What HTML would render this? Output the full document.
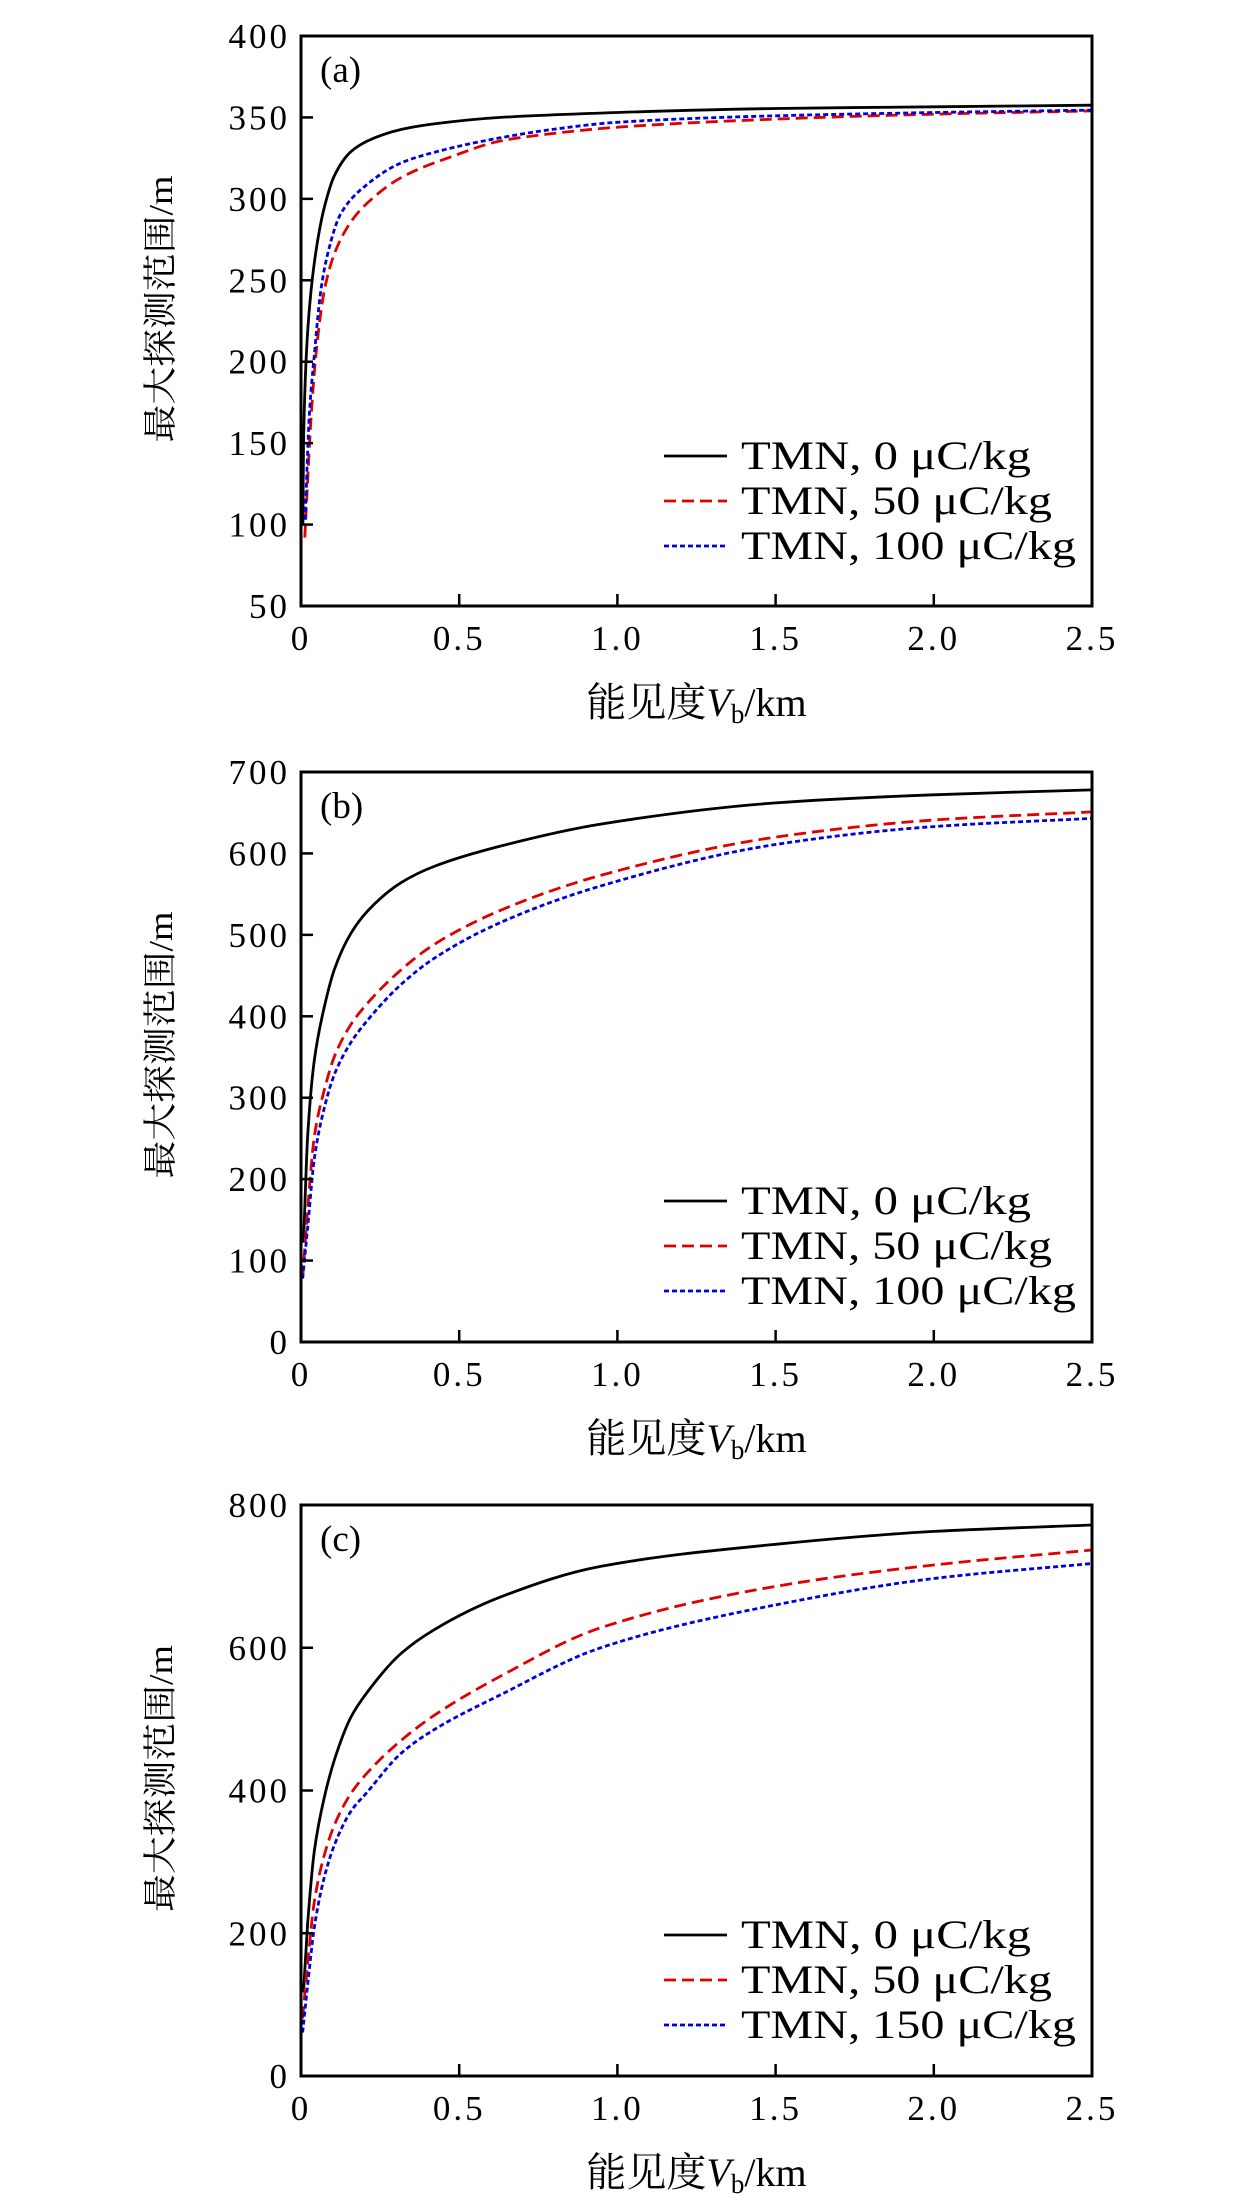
<!DOCTYPE html>
<html><head><meta charset="utf-8">
<style>
html,body{margin:0;padding:0;background:#fff;}
svg{display:block;}
text{font-family:"Liberation Serif","Noto Serif CJK SC",serif;fill:#000;}
</style></head>
<body>
<svg id="fig" width="1260" height="2205" viewBox="0 0 1260 2205" xmlns="http://www.w3.org/2000/svg"></svg>
<script>
// Panel (a)
const aBlackX = [0.006,0.008,0.02,0.032,0.053,0.074,0.105,0.158,0.21,0.316,0.42,0.63,1.0,1.5,2.0,2.5];
const aBlackY = [100,149,215,244,275,295,314,329,335.5,342.6,346,350,353,355.5,356.5,357.5];
const aRedX = [0.012,0.032,0.047,0.074,0.105,0.158,0.21,0.316,0.47,0.63,0.79,1.0,1.5,2.0,2.5];
const aRedY = [92,166,204,244,266,286,297.5,313,325.5,335.5,340,344,349,352,354];
const aBlueX = [0.013,0.026,0.042,0.063,0.084,0.126,0.21,0.316,0.47,0.63,0.79,1.0,1.5,2.0,2.5];
const aBlueY = [103,166,204,244,266,291,309,322,331,337.5,342.5,347,351,353,354.5];

// Panel (b)
const bX = [0.005,0.021,0.042,0.074,0.105,0.158,0.21,0.316,0.42,0.63,0.947,1.5,2.0,2.5];
const bBlackX = [0.008,0.021,0.042,0.074,0.105,0.158,0.21,0.316,0.42,0.63,0.947,1.5,2.0,2.5];
const bBlackY = [122,252,346,412,457,502,529,564,584,609,636,662,672,678];
const bRedY  = [78,162,252,310,350,390,416,457,488,530,573,620,641,651];
const bBlueY = [78,140,225,288,328,368,395,439,471,515,560,611,633,643];

// Panel (c)
const cX = [0.005,0.021,0.042,0.074,0.105,0.158,0.21,0.316,0.42,0.63,0.947,1.5,2.0,2.5];
const cBlackX = [0.008,0.021,0.042,0.074,0.105,0.158,0.21,0.316,0.42,0.63,0.947,1.5,2.0,2.5];
const cBlackY = [117,213,315,391,442,503,538,592,625,671,714,745,763,772];
const cRedY  = [81,157,244,310,351,396,425,470,505,560,628,686,716,737];
const cBlueY = [61,127,208,279,323,371,398,452,485,534,600,660,697,718];

const yTicksA = [50,100,150,200,250,300,350,400];
const yTicksB = [0,100,200,300,400,500,600,700];
const yTicksC = [0,200,400,600,800];
const xTicks = [0,0.5,1.0,1.5,2.0,2.5];
const xTickLabels = ['0','0.5','1.0','1.5','2.0','2.5'];
const legendA = ['TMN, 0 μC/kg','TMN, 50 μC/kg','TMN, 100 μC/kg'];
const legendC = ['TMN, 0 μC/kg','TMN, 50 μC/kg','TMN, 150 μC/kg'];

const NS='http://www.w3.org/2000/svg';
const svg=document.getElementById('fig');
function mk(tag,attrs,parent){const e=document.createElementNS(NS,tag);for(const k in attrs)e.setAttribute(k,attrs[k]);(parent||svg).appendChild(e);return e;}

const L=301,R=1092;
const styles=[{c:'#000',d:''},{c:'#e00000',d:'12 6'},{c:'#0000dd',d:'5 3'}];
const legendW=[290,311,335];

function monoPath(px,py){
  const n=px.length;
  if(n<2)return '';
  const dx=[],m=[],t=new Array(n);
  for(let i=0;i<n-1;i++){dx.push(px[i+1]-px[i]);m.push((py[i+1]-py[i])/dx[i]);}
  t[0]=m[0];t[n-1]=m[n-2];
  for(let i=1;i<n-1;i++){t[i]=(m[i-1]*m[i]<=0)?0:(dx[i-1]+dx[i])*3/((2*dx[i]+dx[i-1])/m[i-1]+(dx[i]+2*dx[i-1])/m[i]);}
  let d='M'+px[0].toFixed(1)+' '+py[0].toFixed(1);
  for(let i=0;i<n-1;i++){
    const h=dx[i]/3;
    d+=' C'+(px[i]+h).toFixed(1)+' '+(py[i]+t[i]*h).toFixed(1)+' '+(px[i+1]-h).toFixed(1)+' '+(py[i+1]-t[i+1]*h).toFixed(1)+' '+px[i+1].toFixed(1)+' '+py[i+1].toFixed(1);
  }
  return d;
}

function panel(id,top,bottom,ymin,ymax,yTicks,series,legend,legendY){
  const g=mk('g',{});
  
  
  const sx=v=>L+(v-0)/(2.5-0)*(R-L);
  const sy=v=>bottom-(v-ymin)/(ymax-ymin)*(bottom-top);
  series.forEach((s,i)=>{
    const d=monoPath(s[0].map(sx),s[1].map(sy));
    const p=mk('path',{d:d,fill:'none',stroke:styles[i].c,'stroke-width':2.8,'stroke-dasharray':styles[i].d,'stroke-linejoin':'round'},g);
    
    
  });
  const fr=mk('rect',{x:L,y:top,width:R-L,height:bottom-top,fill:'none',stroke:'#000','stroke-width':3},g);
  
  
  yTicks.forEach(v=>{
    const y=sy(v);
    mk('line',{x1:L,x2:L+12,y1:y,y2:y,stroke:'#000','stroke-width':2.5},g);
    const t=mk('text',{x:290,y:y+12,'font-size':35,'text-anchor':'end','letter-spacing':3},g);
    t.textContent=String(v);
    
    
  });
  xTicks.forEach((v,i)=>{
    const x=sx(v);
    mk('line',{x1:x,x2:x,y1:bottom,y2:bottom-12,stroke:'#000','stroke-width':2.5},g);
    const t=mk('text',{x:x,y:bottom+44,'font-size':35,'text-anchor':'middle','letter-spacing':3},g);
    t.textContent=xTickLabels[i];
    
    
  });
  const pl=mk('text',{x:320,y:top+46,'font-size':37},g);
  pl.textContent='('+id+')';
  
  
  const cy=(top+bottom)/2-12;
  const yt=mk('text',{x:0,y:0,'font-size':34,'text-anchor':'middle',textLength:267,lengthAdjust:'spacingAndGlyphs',transform:'translate(172 '+cy+') rotate(-90)'},g);
  yt.textContent='最大探测范围/m';
  
  
  const xt=mk('text',{x:(L+R)/2,y:bottom+110,'font-size':40,'text-anchor':'middle'},g);
  xt.innerHTML='能见度<tspan font-style="italic">V</tspan><tspan font-size="27" dy="7">b</tspan><tspan dy="-7">/km</tspan>';
  
  
  legend.forEach((lab,i)=>{
    const y=legendY+i*45;
    const ln=mk('line',{x1:664,x2:727,y1:y,y2:y,stroke:styles[i].c,'stroke-width':2.8,'stroke-dasharray':styles[i].d},g);
    
    
    const t=mk('text',{x:741,y:y+13,'font-size':40,textLength:legendW[i],lengthAdjust:'spacingAndGlyphs'},g);
    t.textContent=lab;
    
    
  });
}
panel('a',36,606,50,400,yTicksA,[[aBlackX,aBlackY],[aRedX,aRedY],[aBlueX,aBlueY]],legendA,456);
panel('b',772,1342,0,700,yTicksB,[[bBlackX,bBlackY],[bX,bRedY],[bX,bBlueY]],legendA,1201);
panel('c',1505,2076,0,800,yTicksC,[[cBlackX,cBlackY],[cX,cRedY],[cX,cBlueY]],legendC,1935);
</script>
</body></html>
